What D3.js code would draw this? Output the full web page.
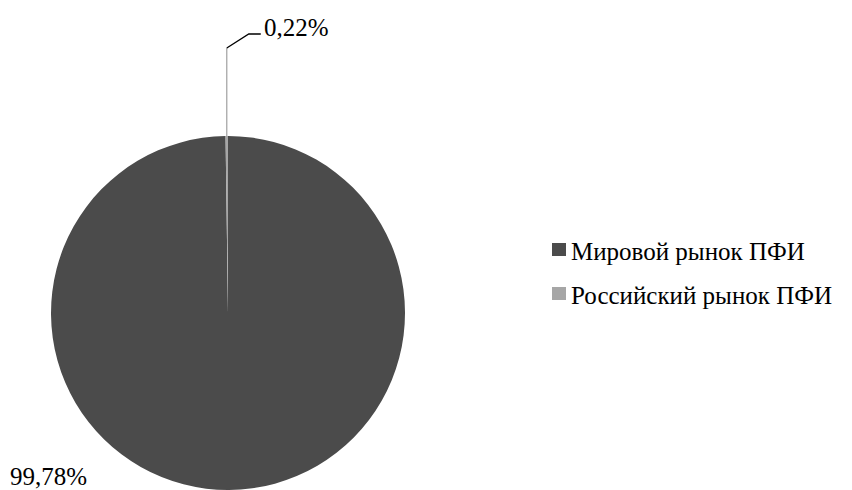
<!DOCTYPE html>
<html><head><meta charset="utf-8">
<script src="https://cdn.jsdelivr.net/npm/d3@7"></script>
<style>body{margin:0;background:#fff}svg{display:block}</style>
</head><body>
<svg id="c" width="852" height="490"></svg>
<script>
const categories = ["Мировой рынок ПФИ", "Российский рынок ПФИ"];
const values = [99.78, 0.22];
const labels = ["99,78%", "0,22%"];
const colors = ["#4b4b4b", "#a6a6a6"];

const FONT = "'Liberation Serif', 'Times New Roman', Times, serif";
const svg = d3.select("#c");
const cx = 228, cy = 313, r = 177;
const pie = d3.pie().sort(null).value(d => d)(values);
const arc = d3.arc().innerRadius(0).outerRadius(r);
const g = svg.append("g").attr("transform", `translate(${cx},${cy})`);
g.selectAll("path").data(pie).enter().append("path")
  .attr("d", arc).attr("fill", (d, i) => colors[i]);

// leader line for the small slice
const s = pie[1];
const mid = (s.startAngle + s.endAngle) / 2;
const ex = cx + Math.sin(mid) * r, ey = cy - Math.cos(mid) * r;
svg.append("line").attr("x1", ex).attr("y1", ey).attr("x2", ex).attr("y2", 48)
  .attr("stroke", "#a0a0a0").attr("stroke-width", 1.2);
svg.append("polyline").attr("points", `${ex},48 ${ex+22},34 ${ex+34},34`)
  .attr("fill", "none").attr("stroke", "#000").attr("stroke-width", 1.3);
svg.append("text").attr("x", 264).attr("y", 36).style("font-size", "25px").style("font-family", FONT).text(labels[1]);
svg.append("text").attr("x", 10).attr("y", 485).style("font-size", "25px").style("font-family", FONT).text(labels[0]);

// legend
const lg = svg.append("g");
categories.forEach((c, i) => {
  const y = 243 + i * 44;
  lg.append("rect").attr("x", 552).attr("y", y).attr("width", 14).attr("height", 13).attr("fill", colors[i]);
  lg.append("text").attr("x", 571).attr("y", y + 17).style("font-size", "25px").style("font-family", FONT).text(c);
});
</script>
</body></html>
